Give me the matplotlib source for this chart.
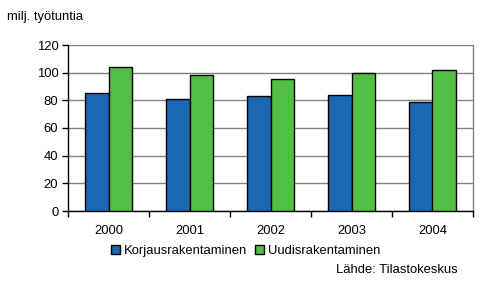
import matplotlib
matplotlib.use('Agg')
from matplotlib import pyplot as plt
import numpy as np

years = ['2000', '2001', '2002', '2003', '2004']
korjaus = [85.3, 81, 83.1, 83.8, 78.8]
uudis = [104.1, 98.3, 95.4, 99.8, 101.9]

blue = '#1A67B2'
green = '#52BF44'

plt.rcParams['font.family'] = ['Liberation Sans', 'DejaVu Sans']
plt.rcParams['font.size'] = 9.4

fig = plt.figure(figsize=(4.92, 2.88), dpi=100)
# plot area in pixels: x 68..473, y 45..211
ax = fig.add_axes([68 / 492, 1 - 211 / 288, (473 - 68) / 492, (211 - 45) / 288])

x = np.arange(len(years))
w = 0.29
ax.bar(x - w / 2, korjaus, w, color=blue, edgecolor='black', linewidth=1, zorder=3,
       label='Korjausrakentaminen')
ax.bar(x + w / 2, uudis, w, color=green, edgecolor='black', linewidth=1, zorder=3,
       label='Uudisrakentaminen')

ax.set_xlim(-0.5, len(years) - 0.5)
ax.set_ylim(0, 120)
ax.set_yticks(range(0, 121, 20))
ax.yaxis.grid(True, color='#808080', linewidth=1, zorder=0)

ax.set_xticks(x)
ax.set_xticklabels(years)
ax.set_xticks(np.arange(-0.5, len(years)), minor=True)
ax.tick_params(axis='x', which='major', length=0, pad=10)
ax.tick_params(axis='x', which='minor', length=4, width=1, color='black', direction='out')
ax.tick_params(axis='y', length=4, width=1, color='black', direction='out', pad=3)

for s in ['left', 'bottom']:
    ax.spines[s].set_color('black')
    ax.spines[s].set_linewidth(1)
ax.spines['top'].set_visible(False)
ax.spines['right'].set_color('#808080')
ax.spines['right'].set_linewidth(1)

fig.text(7 / 492, 1 - 17 / 288, 'milj. työtuntia', ha='left', va='center')

leg = fig.legend(loc='center', bbox_to_anchor=(0.5, 1 - 251 / 288), ncol=2, frameon=False,
                 handlelength=0.7, handleheight=0.7, handletextpad=0.3, columnspacing=0.6,
                 borderpad=0)
fig.text(458 / 492, 1 - 270 / 288, 'Lähde: Tilastokeskus', ha='right', va='center')

fig.savefig('out.png', dpi=100)
